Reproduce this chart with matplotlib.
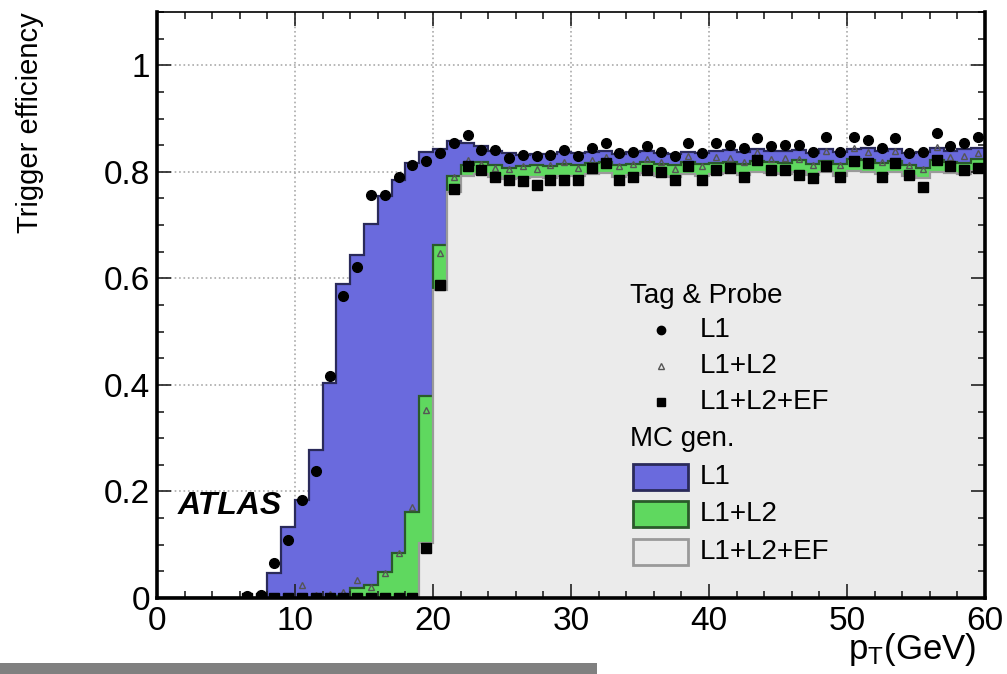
import matplotlib
matplotlib.use("Agg")
import matplotlib.pyplot as plt
from matplotlib.lines import Line2D
from matplotlib.patches import Rectangle
from matplotlib.ticker import MultipleLocator, FuncFormatter
import numpy as np

plt.rcParams['font.family'] = ['Liberation Sans', 'DejaVu Sans']
plt.rcParams['mathtext.fontset'] = 'custom'
plt.rcParams['mathtext.rm'] = 'Liberation Sans'
plt.rcParams['mathtext.it'] = 'Liberation Sans:italic'

nan = np.nan

# 1 GeV bins, 0-60 GeV
edges = np.arange(0, 61, 1)
centres = edges[:-1] + 0.5

# MC generator-level efficiencies
mc_l1 = [0, 0, 0, 0, 0, 0, 0, 0, 0.046, 0.134,
         0.184, 0.278, 0.404, 0.590, 0.643, 0.702, 0.754, 0.785, 0.817, 0.838,
         0.842, 0.858, 0.855, 0.848, 0.840, 0.836, 0.832, 0.834, 0.833, 0.837,
         0.836, 0.838, 0.840, 0.834, 0.837, 0.839, 0.836, 0.834, 0.838, 0.836,
         0.840, 0.841, 0.838, 0.842, 0.840, 0.839, 0.841, 0.836, 0.842, 0.838,
         0.843, 0.844, 0.840, 0.842, 0.836, 0.838, 0.844, 0.840, 0.842, 0.845]
mc_l1l2 = [0, 0, 0, 0, 0, 0, 0, 0, 0, 0,
           0, 0, 0, 0.004, 0.018, 0.024, 0.049, 0.085, 0.162, 0.380,
           0.663, 0.792, 0.812, 0.818, 0.812, 0.808, 0.810, 0.813, 0.810, 0.815,
           0.812, 0.816, 0.818, 0.812, 0.815, 0.818, 0.814, 0.812, 0.818, 0.814,
           0.816, 0.819, 0.815, 0.820, 0.818, 0.816, 0.822, 0.815, 0.820, 0.814,
           0.824, 0.822, 0.817, 0.820, 0.812, 0.808, 0.822, 0.818, 0.816, 0.824]
mc_ef = [0, 0, 0, 0, 0, 0, 0, 0, 0, 0,
         0, 0, 0, 0, 0, 0, 0, 0, 0, 0.103,
         0.578, 0.762, 0.792, 0.795, 0.790, 0.786, 0.788, 0.790, 0.789, 0.793,
         0.792, 0.795, 0.797, 0.791, 0.794, 0.797, 0.793, 0.791, 0.796, 0.793,
         0.795, 0.798, 0.794, 0.799, 0.797, 0.795, 0.800, 0.794, 0.799, 0.793,
         0.802, 0.800, 0.796, 0.799, 0.792, 0.788, 0.800, 0.797, 0.795, 0.802]

# tag & probe measurements
tp_l1 = [nan, nan, nan, nan, nan, nan, 0.004, 0.005, 0.066, 0.108,
         0.184, 0.239, 0.416, 0.566, 0.622, 0.757, 0.757, 0.791, 0.812, 0.821,
         0.836, 0.855, 0.869, 0.841, 0.841, 0.826, 0.832, 0.830, 0.832, 0.841,
         0.829, 0.845, 0.854, 0.835, 0.838, 0.848, 0.838, 0.829, 0.854, 0.835,
         0.854, 0.851, 0.845, 0.863, 0.848, 0.851, 0.851, 0.838, 0.866, 0.838,
         0.866, 0.860, 0.845, 0.863, 0.835, 0.838, 0.873, 0.848, 0.854, 0.866]
tp_l1l2 = [nan, nan, nan, nan, nan, nan, 0.002, 0.002, 0.003, 0.004,
           0.024, 0.006, 0.008, 0.012, 0.034, 0.020, 0.047, 0.084, 0.171, 0.353,
           0.648, 0.790, 0.822, 0.815, 0.808, 0.806, 0.811, 0.806, 0.812, 0.818,
           0.808, 0.823, 0.828, 0.810, 0.814, 0.825, 0.818, 0.806, 0.830, 0.810,
           0.828, 0.826, 0.818, 0.838, 0.824, 0.826, 0.824, 0.812, 0.840, 0.812,
           0.845, 0.838, 0.818, 0.840, 0.812, 0.805, 0.846, 0.828, 0.830, 0.836]
tp_ef = [nan, nan, nan, nan, nan, nan, 0.0, 0.0, 0.0, 0.0,
         0.0, 0.0, 0.0, 0.0, 0.0, 0.0, 0.0, 0.0, 0.0, 0.094,
         0.588, 0.768, 0.810, 0.804, 0.791, 0.785, 0.782, 0.776, 0.785, 0.785,
         0.785, 0.807, 0.817, 0.785, 0.791, 0.804, 0.800, 0.785, 0.810, 0.785,
         0.804, 0.807, 0.791, 0.823, 0.804, 0.804, 0.794, 0.788, 0.810, 0.791,
         0.820, 0.817, 0.791, 0.817, 0.794, 0.772, 0.823, 0.810, 0.804, 0.807]

blue = '#6a6add'
green = '#5fd85f'
grey = '#ebebeb'

W, H = 1007, 674
fig = plt.figure(figsize=(W / 100, H / 100), dpi=100)
ax = fig.add_axes([157 / W, 1 - 598 / H, (985 - 157) / W, (598 - 12) / H])

# dotted grid under the histograms
for gx in [10, 20, 30, 40, 50]:
    ax.axvline(gx, color='#aaaaaa', ls=':', lw=1.2, zorder=0.5)
for gy in [0.2, 0.4, 0.6, 0.8, 1.0]:
    ax.axhline(gy, color='#aaaaaa', ls=':', lw=1.2, zorder=0.5)

ax.stairs(mc_l1, edges, fill=True, facecolor=blue, edgecolor='#2a2a5a', lw=1.6, zorder=1)
ax.stairs(mc_l1l2, edges, fill=True, facecolor=green, edgecolor='#2a5a2a', lw=1.6, zorder=1.1)
ax.stairs(mc_ef, edges, fill=True, facecolor=grey, edgecolor='#9a9a9a', lw=1.6, zorder=1.2)

ax.plot(centres, tp_l1, 'o', color='black', ms=7, zorder=4)
ax.plot(centres, tp_l1l2, '^', mfc='none', mec='#555555', mew=1.0, ms=5, zorder=4)
ax.plot(centres, tp_ef, 's', color='black', ms=7, zorder=4)

ax.set_xlim(0, 60)
ax.set_ylim(0, 1.1)
ax.xaxis.set_major_locator(MultipleLocator(10))
ax.xaxis.set_minor_locator(MultipleLocator(2))
ax.yaxis.set_major_locator(MultipleLocator(0.2))
ax.yaxis.set_minor_locator(MultipleLocator(0.05))
ax.yaxis.set_major_formatter(FuncFormatter(lambda v, p: '%g' % round(v, 2)))
ax.tick_params(which='both', direction='in', top=True, right=True,
               width=1.2, color='#222222', labelsize=24)
ax.tick_params(which='major', length=10)
ax.tick_params(which='minor', length=5)
ax.tick_params(axis='x', pad=6)
ax.tick_params(axis='y', pad=5)
for side in ['left', 'bottom', 'right']:
    ax.spines[side].set_linewidth(2.6)
ax.spines['top'].set_linewidth(1.2)

ax.text(1.5, 0.158, 'ATLAS', fontsize=23, fontweight='bold', fontstyle='italic',
        va='baseline', ha='left', zorder=5)

fig.text(30 / W, 1 - 12 / H, 'Trigger efficiency', rotation=90, ha='center', va='top',
         fontsize=21)
fig.text(976 / W, 1 - 650 / H, r'$\mathrm{p}_{\mathrm{T}}$(GeV)', ha='right', va='center',
         fontsize=25)

# legend, drawn in figure pixels
def fx(px):
    return px / W

def fy(py):
    return 1 - py / H

fs = 20
fig.text(fx(630), fy(296), 'Tag & Probe', ha='left', va='center', fontsize=fs)
rows = [(330, 'o', 'black', 'black', 6, 'L1'),
        (366, '^', 'none', '#555555', 5, 'L1+L2'),
        (402, 's', 'black', 'black', 6, 'L1+L2+EF')]
for py, m, fc, ec, ms, lab in rows:
    fig.add_artist(Line2D([fx(661)], [fy(py)], marker=m, mfc=fc, mec=ec, ms=ms,
                          ls='none', transform=fig.transFigure))
    fig.text(fx(700), fy(py), lab, ha='left', va='center', fontsize=fs)
fig.text(fx(630), fy(439), 'MC gen.', ha='left', va='center', fontsize=fs)
boxes = [(477, blue, '#2a2a5a', 'L1'),
         (514, green, '#2a5a2a', 'L1+L2'),
         (552, grey, '#9a9a9a', 'L1+L2+EF')]
for py, fc, ec, lab in boxes:
    fig.patches.append(Rectangle((fx(633), fy(py + 13)), 55 / W, 26 / H,
                                 transform=fig.transFigure, facecolor=fc,
                                 edgecolor=ec, lw=2))
    fig.text(fx(700), fy(py), lab, ha='left', va='center', fontsize=fs)

# grey strip along the bottom edge
fig.patches.append(Rectangle((0, 0), 597 / W, 11 / H, transform=fig.transFigure,
                             facecolor='#808080', edgecolor='none'))

fig.savefig('out.png', dpi=100)
